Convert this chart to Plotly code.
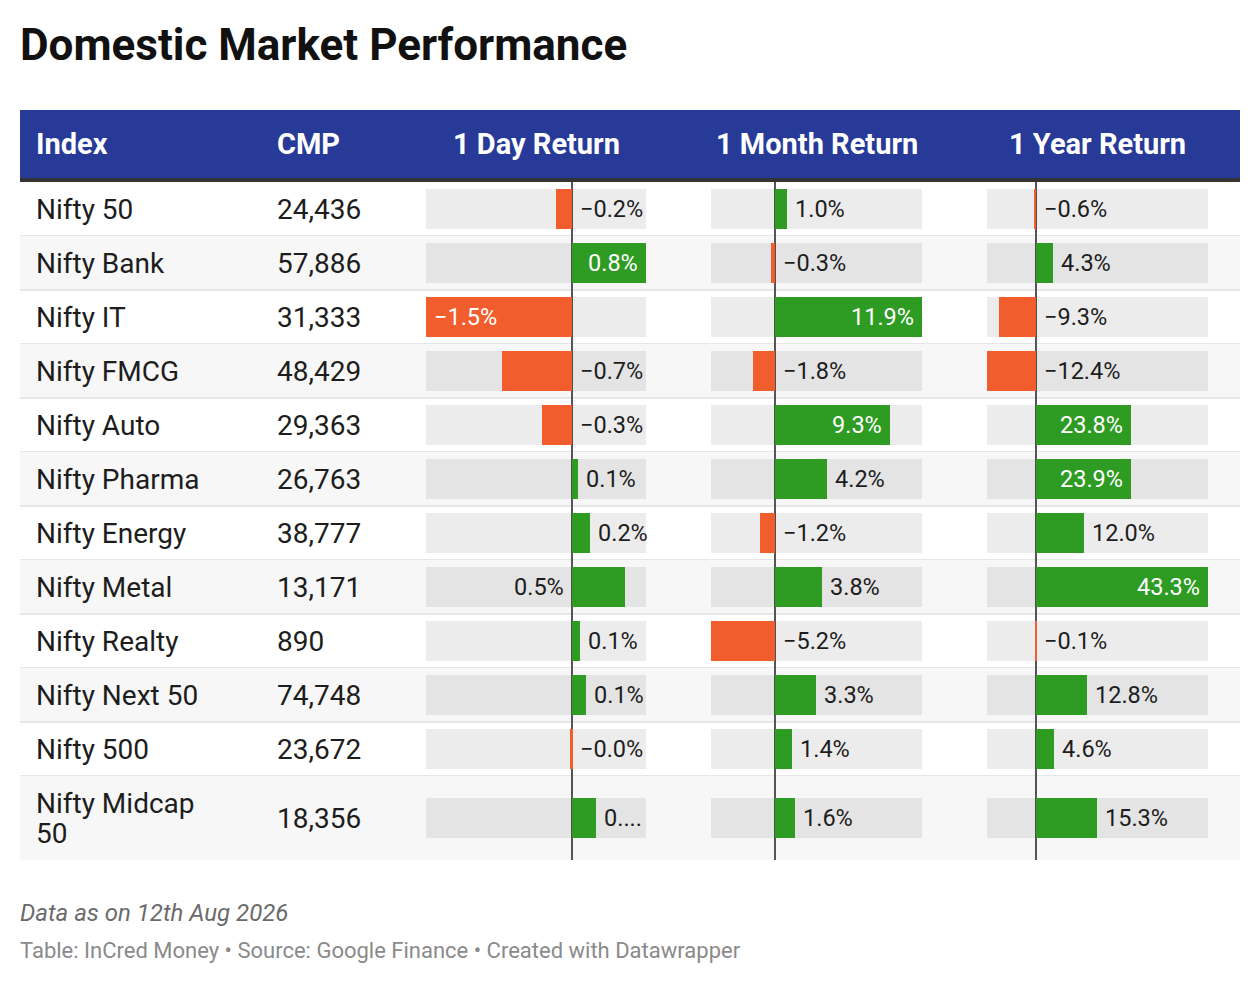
import plotly.graph_objects as go

indices = ["Nifty 50", "Nifty Bank", "Nifty IT", "Nifty FMCG", "Nifty Auto", "Nifty Pharma",
           "Nifty Energy", "Nifty Metal", "Nifty Realty", "Nifty Next 50", "Nifty 500",
           "Nifty Midcap 50"]
cmp_values = [24436, 57886, 31333, 48429, 29363, 26763, 38777, 13171, 890, 74748, 23672, 18356]
day_return = [-0.16, 0.76, -1.50, -0.72, -0.31, 0.06, 0.18, 0.54, 0.08, 0.14, -0.02, 0.25]
month_return = [0.98, -0.34, 11.9, -1.8, 9.3, 4.2, -1.2, 3.8, -5.2, 3.3, 1.4, 1.6]
year_return = [-0.6, 4.3, -9.3, -12.4, 23.8, 23.9, 12.0, 43.3, -0.1, 12.8, 4.6, 15.3]
headers = ["Index", "CMP", "1 Day Return", "1 Month Return", "1 Year Return"]

title = "Domestic Market Performance"
note = "Data as on 12th Aug 2026"
source = "Table: InCred Money • Source: Google Finance • Created with Datawrapper"

W, H = 1260, 984
OFF = 8  # page margin around the plot div
FONT = "Roboto"
BLUE = "#283a97"
GREEN = "#2e9b23"
ORANGE = "#f15d2d"
TEXT = "#1d1d1d"
LABEL_SIZE = 23.5
PAD = 6


def px_x(x):
    return (x - OFF) / (W - OFF)


def px_y(y):
    return 1 - (y - OFF) / (H - OFF)


def wrap(name, limit=13):
    lines, cur = [], ""
    for w in name.split():
        if cur and len(cur) + 1 + len(w) > limit:
            lines.append(cur)
            cur = w
        else:
            cur = (cur + " " + w).strip()
    lines.append(cur)
    return lines


def text_w(s):
    widths = {".": 0.26, "%": 0.73, "\u2212": 0.57}
    return sum(widths.get(c, 0.56) for c in s) * LABEL_SIZE


def fmt(v):
    s = f"{v:.1f}%"
    return s.replace("-", "\u2212")


# row geometry (pixels from the top of the table body)
TOP = 182
name_lines = [wrap(n) for n in indices]
heights = [54 + 30 * (len(l) - 1) for l in name_lines]
tops, acc = [], 0
for h in heights:
    tops.append(acc)
    acc += h
total = acc
centers = [t + h / 2 for t, h in zip(tops, heights)]

columns = [
    ("x", day_return, (426, 646)),
    ("x2", month_return, (711, 922)),
    ("x3", year_return, (987, 1208)),
]

fig = go.Figure()
annotations = []
shapes = []

# header band and rule
shapes.append(dict(type="rect", xref="paper", yref="paper", x0=px_x(20), x1=px_x(1240),
                   y0=px_y(178), y1=px_y(110), fillcolor=BLUE, line_width=0, layer="below"))
shapes.append(dict(type="rect", xref="paper", yref="paper", x0=px_x(20), x1=px_x(1240),
                   y0=px_y(182), y1=px_y(178), fillcolor="#333333", line_width=0, layer="below"))

# row backgrounds and separators
for i, (t, h) in enumerate(zip(tops, heights)):
    if i % 2 == 1:
        shapes.append(dict(type="rect", xref="paper", yref="y", x0=px_x(20), x1=px_x(1240),
                           y0=t, y1=t + h, fillcolor="#f7f7f7", line_width=0, layer="below"))
    if i < len(heights) - 1:
        shapes.append(dict(type="line", xref="paper", yref="y", x0=px_x(20), x1=px_x(1240),
                           y0=t + h, y1=t + h, line=dict(color="#e6e6e6", width=2),
                           layer="below"))

# header texts
head_y = px_y(144)
annotations.append(dict(text=headers[0], x=px_x(34), xanchor="left"))
annotations.append(dict(text=headers[1], x=px_x(275), xanchor="left"))
for (ax, vals, (l, r)), head in zip(columns, headers[2:]):
    annotations.append(dict(text=head, x=px_x((l + r) / 2), xanchor="center"))
for a in annotations:
    a.update(xref="paper", yref="paper", y=head_y, yanchor="middle", showarrow=False,
             font=dict(family=FONT, size=29, color="white", weight="bold"))

# index and CMP cells
for lines, c, val in zip(name_lines, centers, cmp_values):
    n = len(lines)
    for k, line in enumerate(lines):
        annotations.append(dict(text=line, xref="paper", yref="y", x=px_x(34),
                                y=c + (k - (n - 1) / 2) * 30, xanchor="left", yanchor="middle",
                                showarrow=False, font=dict(family=FONT, size=28, color=TEXT)))
    annotations.append(dict(text=f"{val:,}", xref="paper", yref="y", x=px_x(275), y=c,
                            xanchor="left", yanchor="middle", showarrow=False,
                            font=dict(family=FONT, size=28, color=TEXT)))

# bar columns
axis_layout = {}
for idx, (ax, vals, (l, r)) in enumerate(columns):
    lo, hi = min(vals), max(vals)
    fig.add_trace(go.Bar(y=centers, x=[hi - lo] * len(vals), base=lo, orientation="h",
                         width=40, xaxis=ax, yaxis="y", hoverinfo="skip",
                         marker=dict(color="rgba(0,0,0,0.075)", line_width=0)))
    fig.add_trace(go.Bar(y=centers, x=vals, orientation="h", width=40, xaxis=ax, yaxis="y",
                         marker=dict(color=[GREEN if v >= 0 else ORANGE for v in vals],
                                     line_width=0)))
    name = "xaxis" if ax == "x" else "xaxis" + ax[1:]
    axis_layout[name] = dict(domain=[px_x(l), px_x(r)], range=[lo, hi], anchor="y",
                             showgrid=False, showticklabels=False, ticks="", showline=False,
                             zeroline=True, zerolinecolor="#555555", zerolinewidth=1.5,
                             layer="above traces", fixedrange=True)

    ppu = (r - l) / (hi - lo)
    for v, c in zip(vals, centers):
        label = fmt(v)
        color = TEXT
        if abs(v) * ppu >= text_w(label) + 2 * PAD:
            color = "white"
            x, anchor, shift = v, ("right" if v > 0 else "left"), (-PAD if v > 0 else PAD)
        else:
            start = max(v, 0)
            room = (hi - start) * ppu
            if room >= text_w(label) + PAD:
                x, anchor, shift = start, "left", PAD
            elif start > hi / 2:
                x, anchor, shift = 0, "right", -PAD
            else:
                # not enough room: truncate the label like the original
                k = len(label)
                while k > 1 and text_w(label[:k] + "...") + PAD > room:
                    k -= 1
                label = label[:k] + "..."
                x, anchor, shift = start, "left", PAD
        annotations.append(dict(text=label, xref=ax, yref="y", x=x, y=c, xanchor=anchor,
                                yanchor="middle", xshift=shift, showarrow=False,
                                font=dict(family=FONT, size=LABEL_SIZE, color=color)))

# title and footer
annotations.append(dict(text=title, xref="paper", yref="paper", x=px_x(18), y=px_y(45),
                        xanchor="left", yanchor="middle", showarrow=False,
                        font=dict(family=FONT, size=44, color="#111111", weight="bold")))
annotations.append(dict(text=f"<i>{note}</i>", xref="paper", yref="paper", x=px_x(18),
                        y=px_y(913), xanchor="left", yanchor="middle", showarrow=False,
                        font=dict(family=FONT, size=24, color="#6b6b6b")))
annotations.append(dict(text=source, xref="paper", yref="paper", x=px_x(18), y=px_y(950),
                        xanchor="left", yanchor="middle", showarrow=False,
                        font=dict(family=FONT, size=22, color="#8a8a8a")))

fig.update_layout(
    width=W - OFF, height=H - OFF,
    margin=dict(l=0, r=0, t=0, b=0),
    paper_bgcolor="white", plot_bgcolor="rgba(0,0,0,0)",
    barmode="overlay", showlegend=False, bargap=0,
    yaxis=dict(domain=[px_y(TOP + total), px_y(TOP)], range=[total, 0], visible=False,
               zeroline=False, showgrid=False, fixedrange=True),
    shapes=shapes, annotations=annotations,
    **axis_layout,
)

fig.write_html("out.html")
